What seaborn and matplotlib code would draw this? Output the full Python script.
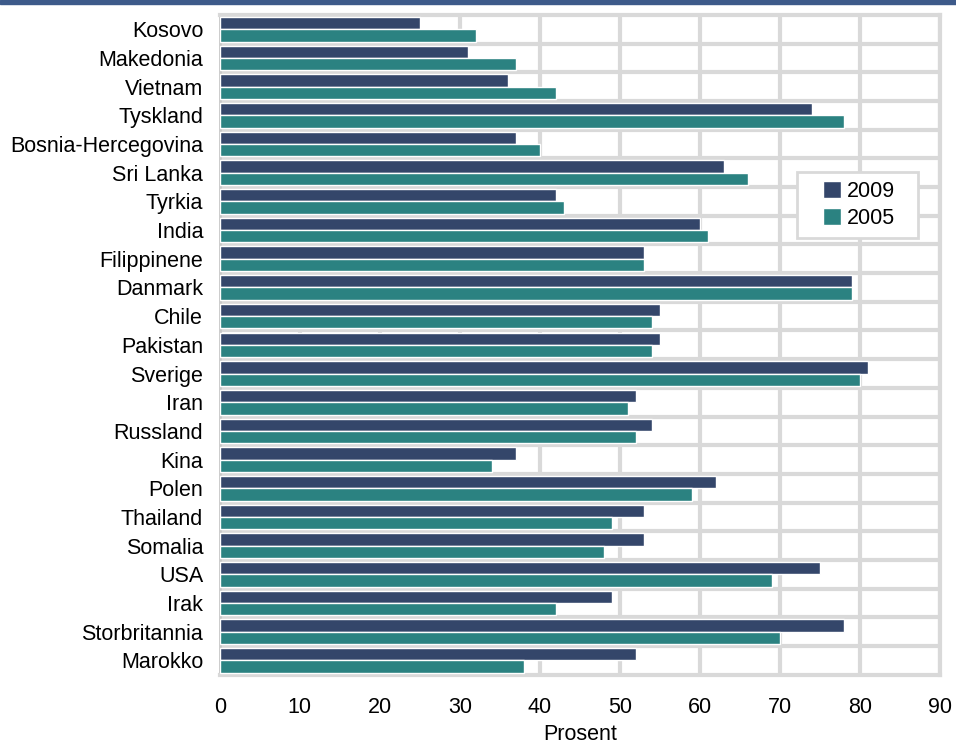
import pandas as pd
import matplotlib

matplotlib.use("Agg")

import matplotlib.pyplot as plt
import seaborn as sns
from matplotlib.patches import Rectangle

countries = ["Kosovo", "Makedonia", "Vietnam", "Tyskland", "Bosnia-Hercegovina",
             "Sri Lanka", "Tyrkia", "India", "Filippinene", "Danmark", "Chile",
             "Pakistan", "Sverige", "Iran", "Russland", "Kina", "Polen", "Thailand",
             "Somalia", "USA", "Irak", "Storbritannia", "Marokko"]
values_2009 = [25, 31, 36, 74, 37, 63, 42, 60, 53, 79, 55, 55, 81, 52, 54, 37, 62,
               53, 53, 75, 49, 78, 52]
values_2005 = [32, 37, 42, 78, 40, 66, 43, 61, 53, 79, 54, 54, 80, 51, 52, 34, 59,
               49, 48, 69, 42, 70, 38]
years = ["2009", "2005"]
x_ticks = list(range(0, 100, 10))

df = pd.DataFrame({
    "Land": countries * 2,
    "Prosent": values_2009 + values_2005,
    "År": ["2009"] * len(countries) + ["2005"] * len(countries),
})

sns.set_theme(style="white")
plt.rcParams["font.family"] = ["Liberation Sans", "DejaVu Sans"]
plt.rcParams["text.color"] = "black"
plt.rcParams["xtick.color"] = "black"
plt.rcParams["ytick.color"] = "black"
plt.rcParams["axes.labelcolor"] = "black"

fs = 15.5
grid_col = "#d9d9d9"
fig = plt.figure(figsize=(9.56, 7.44), dpi=100)
ax = fig.add_axes([0.230, 0.093, 0.753, 0.887])

sns.barplot(data=df, y="Land", x="Prosent", hue="År", hue_order=years,
            order=countries, orient="h", palette=["#34466a", "#2b8281"],
            width=0.86, saturation=1, ax=ax, zorder=3)

ax.set_xlim(0, 90)
ax.set_ylim(len(countries) - 0.5, -0.5)
ax.set_xticks(x_ticks)
ax.set_xticklabels([str(t) for t in x_ticks], fontsize=fs)
ax.set_yticks([i - 0.5 for i in range(1, len(countries))], minor=True)
ax.tick_params(axis="y", which="both", length=0, labelsize=fs, pad=12)
ax.tick_params(axis="x", length=0, pad=16)
ax.grid(axis="x", color=grid_col, linewidth=3, zorder=0)
ax.grid(axis="y", which="minor", color=grid_col, linewidth=3, zorder=0)
ax.grid(axis="y", which="major", visible=False)
ax.set_axisbelow(True)
for s in ax.spines.values():
    s.set_color(grid_col)
    s.set_linewidth(3)
ax.spines["left"].set_color("#c8c8c8")
ax.spines["left"].set_linewidth(2)

ax.set_ylabel("")
ax.set_xlabel("Prosent", fontsize=fs, labelpad=4)

# legend box drawn separately so the padding can match the original
fig.add_artist(Rectangle((0.8337, 0.6801), 0.1266, 0.0887, transform=fig.transFigure,
                         facecolor="white", edgecolor=grid_col, linewidth=2, zorder=8))
leg = ax.legend(loc="center", bbox_to_anchor=(0.8985, 0.7245),
                bbox_transform=fig.transFigure, fontsize=fs, frameon=False,
                handlelength=0.85, handleheight=0.85, handletextpad=0.25,
                borderpad=0, labelspacing=0.3)
leg.set_zorder(9)
leg.remove()
fig.add_artist(leg)

fig.add_artist(Rectangle((0, 0.995), 1, 0.005, transform=fig.transFigure,
                         color="#3d5a8a", zorder=10))

plt.savefig("out.png", dpi=100)
plt.close()
